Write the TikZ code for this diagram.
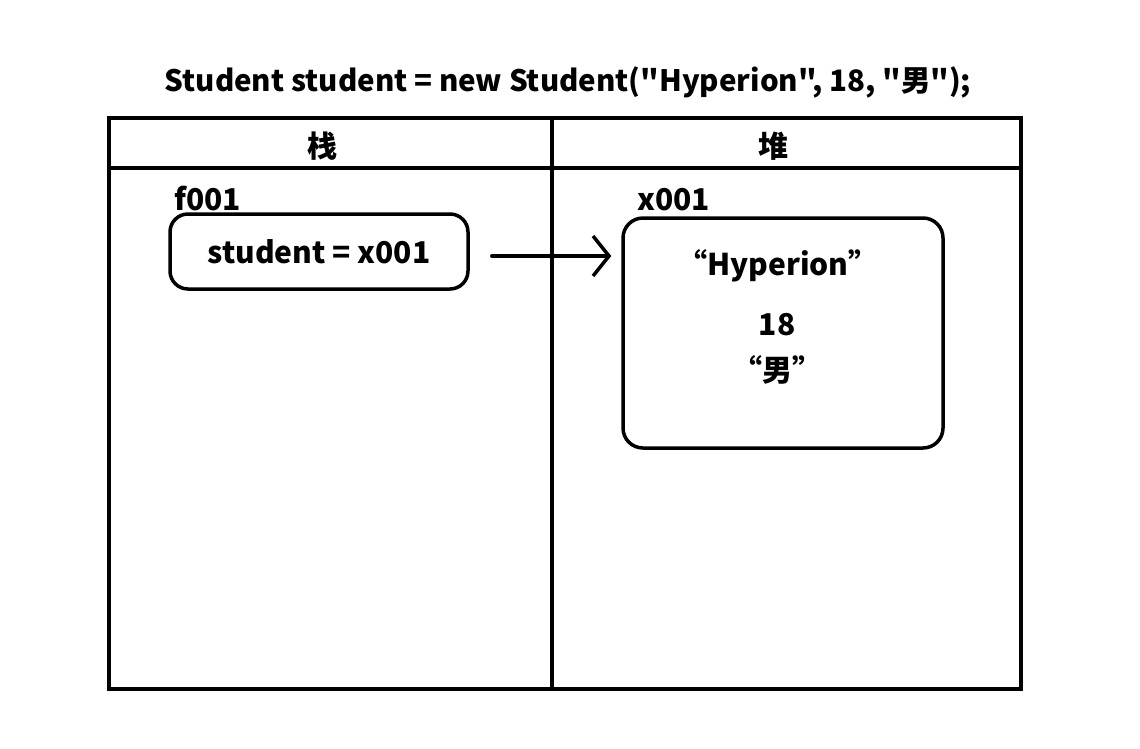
\documentclass[tikz,border=0pt]{standalone}
\usepackage{fontspec}
\newfontfamily\yahei{Noto Sans CJK SC}
\usepackage{tikz}
\usetikzlibrary{arrows.meta, positioning}
\tikzset{
  %% ── Boxes ──────────────────────────────────────────────────────────
  %% the stack frame holds the reference, the heap box holds the object
  cadre/.style    = {draw=black, line width=3.5pt},
  boiteRef/.style = {draw=black, line width=3.5pt, rounded corners=18pt,
                     minimum width=298pt, minimum height=75pt,
                     font=\yahei\fontsize{30}{34}\selectfont\bfseries},
  boiteObj/.style = {draw=black, line width=3.5pt, rounded corners=20pt,
                     minimum width=320pt, minimum height=230pt},
  %%
  %% ── Arrows ─────────────────────────────────────────────────────────
  fleche/.style   = {-{Straight Barb[length=16pt, width=40pt]},
                     line width=3.5pt, line cap=round},
  %%
  %% ── Text ───────────────────────────────────────────────────────────
  titre/.style    = {font=\yahei\fontsize{29.5}{34}\selectfont\bfseries},
  entete/.style   = {font=\yahei\fontsize{30}{34}\selectfont\bfseries},
  adresse/.style  = {font=\yahei\fontsize{30}{34}\selectfont\bfseries,
                     anchor=west, inner sep=0pt},
  valeur/.style   = {font=\yahei\fontsize{30}{34}\selectfont\bfseries},
}

\begin{document}
\begin{tikzpicture}[x=1pt, y=-1pt]
\useasboundingbox (0,0) rectangle (1140,748);

%% La ligne de code.
\node[titre] (code) at (568,82) {Student student = new Student("Hyperion", 18, "男");};

%% Le cadre : deux colonnes et leur bande de titre.
\draw[cadre] (109,118) rectangle (1021,689);
\draw[cadre] (109,168) -- (1021,168);
\draw[cadre] (552,118) -- (552,689);
\node[entete] (pile) at (322,146) {栈};
\node[entete] (tas)  at (773,146) {堆};

%% La pile : le cadre f001 et sa reference.
\node[adresse] (f001) at (174,199) {f001};
\node[boiteRef] (ref) at (319,251.5) {student = x001};

%% Le tas : l'objet x001.
\node[adresse] (x001) at (637,200) {x001};
\node[boiteObj] (obj) at (783,333) {};
\node[valeur] (nom)  at (778,266) {“Hyperion”};
\node[valeur] (age)  at (777,325) {18};
\node[valeur] (sexe) at (777,370) {“男”};

%% La reference pointe vers l'objet.
\draw[fleche, shorten <=22pt, shorten >=10pt]
     ([yshift=-4.5pt]ref.east) -- ([yshift=-4.5pt]ref.east -| obj.west);

\end{tikzpicture}
\end{document}
